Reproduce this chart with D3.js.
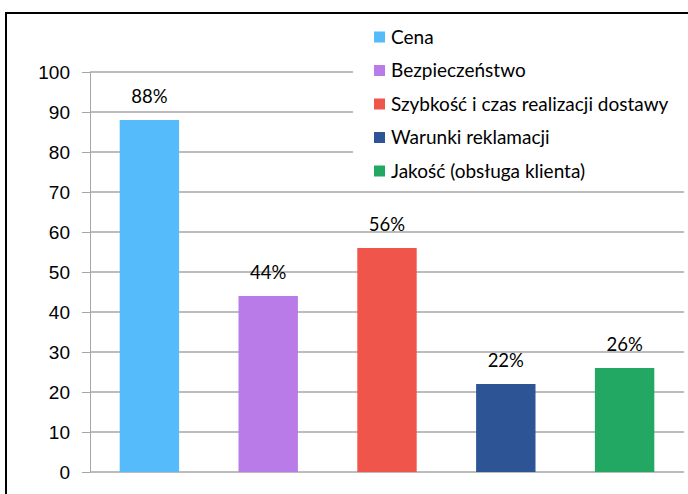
<!DOCTYPE html>
<html>
<head>
<meta charset="utf-8">
<script src="https://cdn.jsdelivr.net/npm/d3@7"></script>
<style>
  body { margin: 0; background: #fff; }
  svg { font-family: Lato, "Open Sans", sans-serif; }
</style>
</head>
<body>
<svg id="chart"></svg>
<script>
const categories = ['Cena', 'Bezpieczeństwo', 'Szybkość i czas realizacji dostawy', 'Warunki reklamacji', 'Jakość (obsługa klienta)'];
const values = [88, 44, 56, 22, 26];
const colors = ['#55bbfb', '#b97be8', '#ef554a', '#2d5596', '#22a862'];
const yTicks = [0, 10, 20, 30, 40, 50, 60, 70, 80, 90, 100];

const W = 688, H = 494;
const margin = { top: 72, right: 4, bottom: 22, left: 90 };
const width = W - margin.left - margin.right;
const height = H - margin.top - margin.bottom;

const svg = d3.select('#chart').attr('width', W).attr('height', H);

// frame
svg.append('line').attr('x1', 5).attr('x2', W).attr('y1', 13).attr('y2', 13)
  .attr('stroke', '#000').attr('stroke-width', 2);
svg.append('line').attr('x1', 6).attr('x2', 6).attr('y1', 12).attr('y2', H)
  .attr('stroke', '#000').attr('stroke-width', 2);

const g = svg.append('g').attr('transform', `translate(${margin.left},${margin.top})`);

const x = d3.scaleBand().domain(categories).range([0, width]).paddingInner(0.5).paddingOuter(0.25);
const y = d3.scaleLinear().domain([0, 100]).range([height, 0]);

// grid + y labels
const yAxis = g.append('g')
  .call(d3.axisLeft(y).tickValues(yTicks).tickSize(8).tickPadding(12))
  .call(a => a.select('.domain').attr('stroke', '#a6a6a6'));
yAxis.selectAll('.tick line').attr('stroke', '#a6a6a6');
yAxis.selectAll('.tick text').attr('fill', '#000').style('font-size', '19px');
g.append('g').selectAll('line').data(yTicks).join('line')
  .attr('x1', 0).attr('x2', width)
  .attr('y1', d => y(d)).attr('y2', d => y(d))
  .attr('stroke', '#a6a6a6').attr('stroke-width', 1.3);

// bars
g.selectAll('.bar').data(values).join('rect')
  .attr('class', 'bar')
  .attr('x', (d, i) => x(categories[i]))
  .attr('width', x.bandwidth())
  .attr('y', d => y(d))
  .attr('height', d => height - y(d))
  .attr('fill', (d, i) => colors[i]);

g.selectAll('.lbl').data(values).join('text')
  .attr('class', 'lbl')
  .attr('x', (d, i) => x(categories[i]) + x.bandwidth() / 2)
  .attr('y', d => y(d) - 17)
  .attr('text-anchor', 'middle')
  .style('font-size', '18.5px')
  .text(d => d + '%');

// legend
const leg = svg.append('g').attr('transform', 'translate(353,20)');
leg.append('rect').attr('width', W - 353).attr('height', 166).attr('fill', '#fff');
const item = leg.selectAll('.item').data(categories).join('g')
  .attr('class', 'item')
  .attr('transform', (d, i) => `translate(21,${17 + i * 33.5})`);
item.append('rect').attr('x', 0).attr('y', -5.5).attr('width', 11).attr('height', 11)
  .attr('fill', (d, i) => colors[i]);
item.append('text').attr('x', 17).attr('dy', '0.35em')
  .style('font-size', '19px').text(d => d);
</script>
</body>
</html>
